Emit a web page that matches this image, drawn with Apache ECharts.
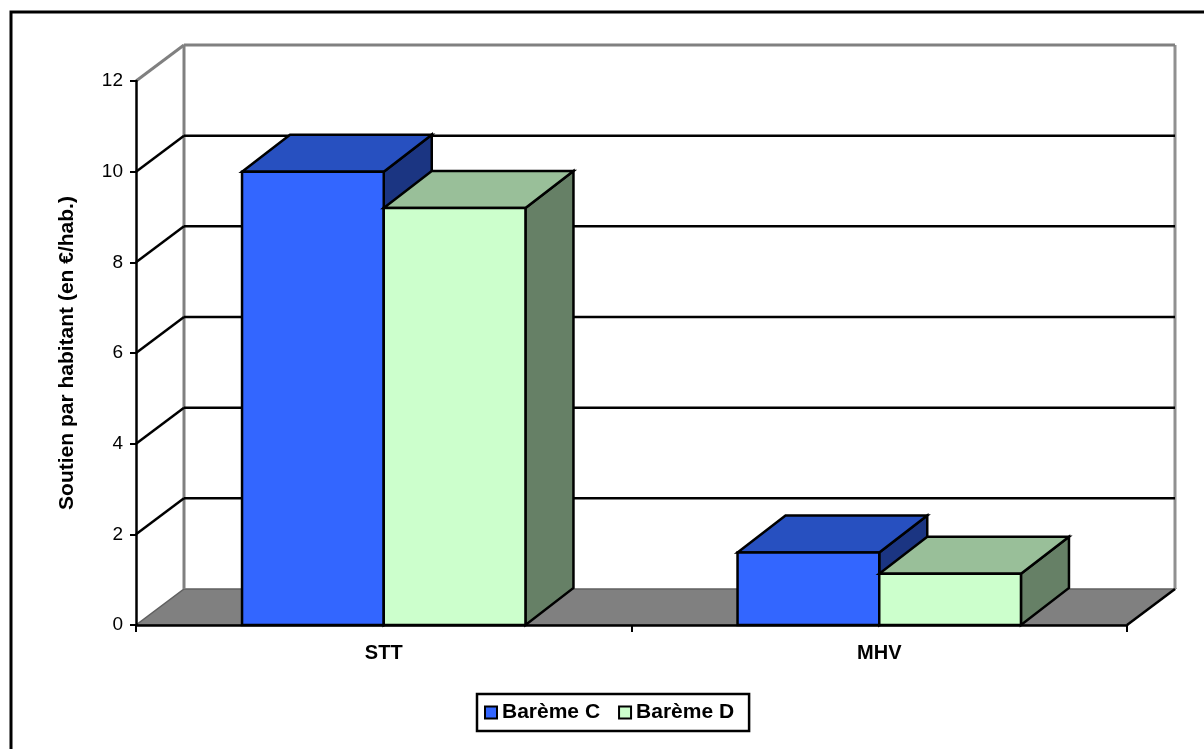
<!DOCTYPE html>
<html>
<head>
<meta charset="utf-8">
<title>Soutien par habitant</title>
<script src="https://cdn.jsdelivr.net/npm/echarts@6/dist/echarts.min.js"></script>
<style>
  html, body { margin: 0; padding: 0; background: #fff; }
  #chart { width: 1204px; height: 749px; }
</style>
</head>
<body>
<div id="chart"></div>
<script>
// Categories and values (soutien en €/hab.)
const categories = ['STT', 'MHV'];
const baremeC = [10.0, 1.6];
const baremeD = [9.2, 1.13];
const yTicks = [0, 2, 4, 6, 8, 10, 12];

// 3D look: depth offsets for walls and bars, bar width as share of a category
const WALL_DEPTH = [48, -36];
const BAR_DEPTH = [48, -37];
const BAR_RATIO = 0.286;

const COLORS = {
  C: { front: '#3366FF', top: '#2750C0', side: '#1B3582' },
  D: { front: '#CCFFCC', top: '#99BF99', side: '#668066' }
};

const FONT = 'Liberation Sans, Arial, sans-serif';

// Floor and back/side wall outline
function renderWalls(params, api) {
  const cs = params.coordSys;
  const yb = api.coord([0, 0])[1];
  const yt = api.coord([0, 12])[1];
  const xl = cs.x, xr = cs.x + cs.width;
  const [dx, dy] = WALL_DEPTH;
  return {
    type: 'group',
    children: [
      { type: 'polygon', shape: { points: [[xl, yb], [xr, yb], [xr + dx, yb + dy], [xl + dx, yb + dy]] },
        style: { fill: '#808080', stroke: '#606060', lineWidth: 1.5 } },
      { type: 'line', shape: { x1: xl + dx, y1: yb + dy, x2: xl + dx, y2: yt + dy },
        style: { stroke: '#808080', lineWidth: 3 } },
      { type: 'line', shape: { x1: xr + dx, y1: yb + dy, x2: xr + dx, y2: yt + dy },
        style: { stroke: '#909090', lineWidth: 3 } },
      { type: 'line', shape: { x1: xr, y1: yb, x2: xr + dx, y2: yb + dy },
        style: { stroke: '#000', lineWidth: 2.5 } }
    ]
  };
}

// Gridlines on the back wall and side wall for each tick value
function renderGridLine(params, api) {
  const v = api.value(1);
  if (v === 0) return null;
  const cs = params.coordSys;
  const y = api.coord([0, v])[1];
  const xl = cs.x, xr = cs.x + cs.width;
  const [dx, dy] = WALL_DEPTH;
  const isTop = v === 12;
  const color = isTop ? '#808080' : '#000';
  const lw = isTop ? 3 : 2.5;
  return {
    type: 'group',
    children: [
      { type: 'line', shape: { x1: xl, y1: y, x2: xl + dx, y2: y + dy }, style: { stroke: color, lineWidth: lw } },
      { type: 'line', shape: { x1: xl + dx, y1: y + dy, x2: xr + dx, y2: y + dy }, style: { stroke: color, lineWidth: lw } }
    ]
  };
}

// Box-shaped column: front, top and right faces
function makeBarRenderer(key, side) {
  const c = COLORS[key];
  return function (params, api) {
    const cat = api.value(0), val = api.value(1);
    const base = api.coord([cat, 0]);
    const top = api.coord([cat, val]);
    const w = api.size([1, 0])[0] * BAR_RATIO;
    const x0 = side < 0 ? base[0] - w : base[0];
    const x1 = x0 + w;
    const yb = base[1], yt = top[1];
    const [dx, dy] = BAR_DEPTH;
    const edge = { stroke: '#000', lineWidth: 2.5, lineJoin: 'miter' };
    return {
      type: 'group',
      children: [
        { type: 'polygon', shape: { points: [[x1, yb], [x1 + dx, yb + dy], [x1 + dx, yt + dy], [x1, yt]] },
          style: Object.assign({ fill: c.side }, edge) },
        { type: 'polygon', shape: { points: [[x0, yt], [x1, yt], [x1 + dx, yt + dy], [x0 + dx, yt + dy]] },
          style: Object.assign({ fill: c.top }, edge) },
        { type: 'polygon', shape: { points: [[x0, yb], [x1, yb], [x1, yt], [x0, yt]] },
          style: Object.assign({ fill: c.front }, edge) }
      ]
    };
  };
}

const chart = echarts.init(document.getElementById('chart'), null, { renderer: 'canvas' });

chart.setOption({
  backgroundColor: '#fff',
  animation: false,
  graphic: [
    { type: 'rect', shape: { x: 11, y: 12, width: 1200, height: 745 },
      style: { fill: 'none', stroke: '#000', lineWidth: 3 }, z: 100 }
  ],
  grid: { left: 136, right: 77, top: 81, bottom: 124, containLabel: false },
  legend: {
    left: 477, top: 694,
    orient: 'horizontal',
    padding: [8, 15, 8, 7],
    borderColor: '#000', borderWidth: 2.5,
    backgroundColor: '#fff',
    itemWidth: 12, itemHeight: 12, itemGap: 18,
    textStyle: { fontFamily: FONT, fontSize: 21, fontWeight: 'bold', color: '#000' },
    data: [
      { name: 'Barème C', icon: 'rect', itemStyle: { color: COLORS.C.front, borderColor: '#000', borderWidth: 2 } },
      { name: 'Barème D', icon: 'rect', itemStyle: { color: COLORS.D.front, borderColor: '#000', borderWidth: 2 } }
    ]
  },
  xAxis: {
    type: 'category',
    data: categories,
    boundaryGap: true,
    z: 5,
    axisLine: { lineStyle: { color: '#000', width: 2.5 } },
    axisTick: { show: true, length: 7, lineStyle: { color: '#000', width: 2 } },
    axisLabel: { color: '#000', fontFamily: FONT, fontSize: 20, fontWeight: 'bold', margin: 18 },
    splitLine: { show: false }
  },
  yAxis: {
    type: 'value',
    min: 0, max: 12, interval: 2,
    z: 5,
    name: 'Soutien par habitant (en €/hab.)',
    nameLocation: 'middle',
    nameRotate: 90,
    nameGap: 58,
    nameTextStyle: { color: '#000', fontFamily: FONT, fontSize: 21, fontWeight: 'bold' },
    axisLine: { show: true, lineStyle: { color: '#000', width: 2.5 } },
    axisTick: { show: true, length: 6, lineStyle: { color: '#000', width: 2 } },
    axisLabel: { color: '#000', fontFamily: FONT, fontSize: 19, margin: 13 },
    splitLine: { show: false }
  },
  series: [
    {
      name: 'walls', type: 'custom', renderItem: renderWalls, z: 1,
      data: [[0, 0]], encode: { x: 0, y: 1 }, silent: true
    },
    {
      name: 'gridlines', type: 'custom', renderItem: renderGridLine, z: 1,
      data: yTicks.map(v => [0, v]), encode: { x: 0, y: 1 }, silent: true
    },
    {
      name: 'Barème C', type: 'custom', renderItem: makeBarRenderer('C', -1), z: 3,
      itemStyle: { color: COLORS.C.front },
      data: baremeC.map((v, i) => [i, v]), encode: { x: 0, y: 1 }
    },
    {
      name: 'Barème D', type: 'custom', renderItem: makeBarRenderer('D', 1), z: 4,
      itemStyle: { color: COLORS.D.front },
      data: baremeD.map((v, i) => [i, v]), encode: { x: 0, y: 1 }
    }
  ]
});
</script>
</body>
</html>
